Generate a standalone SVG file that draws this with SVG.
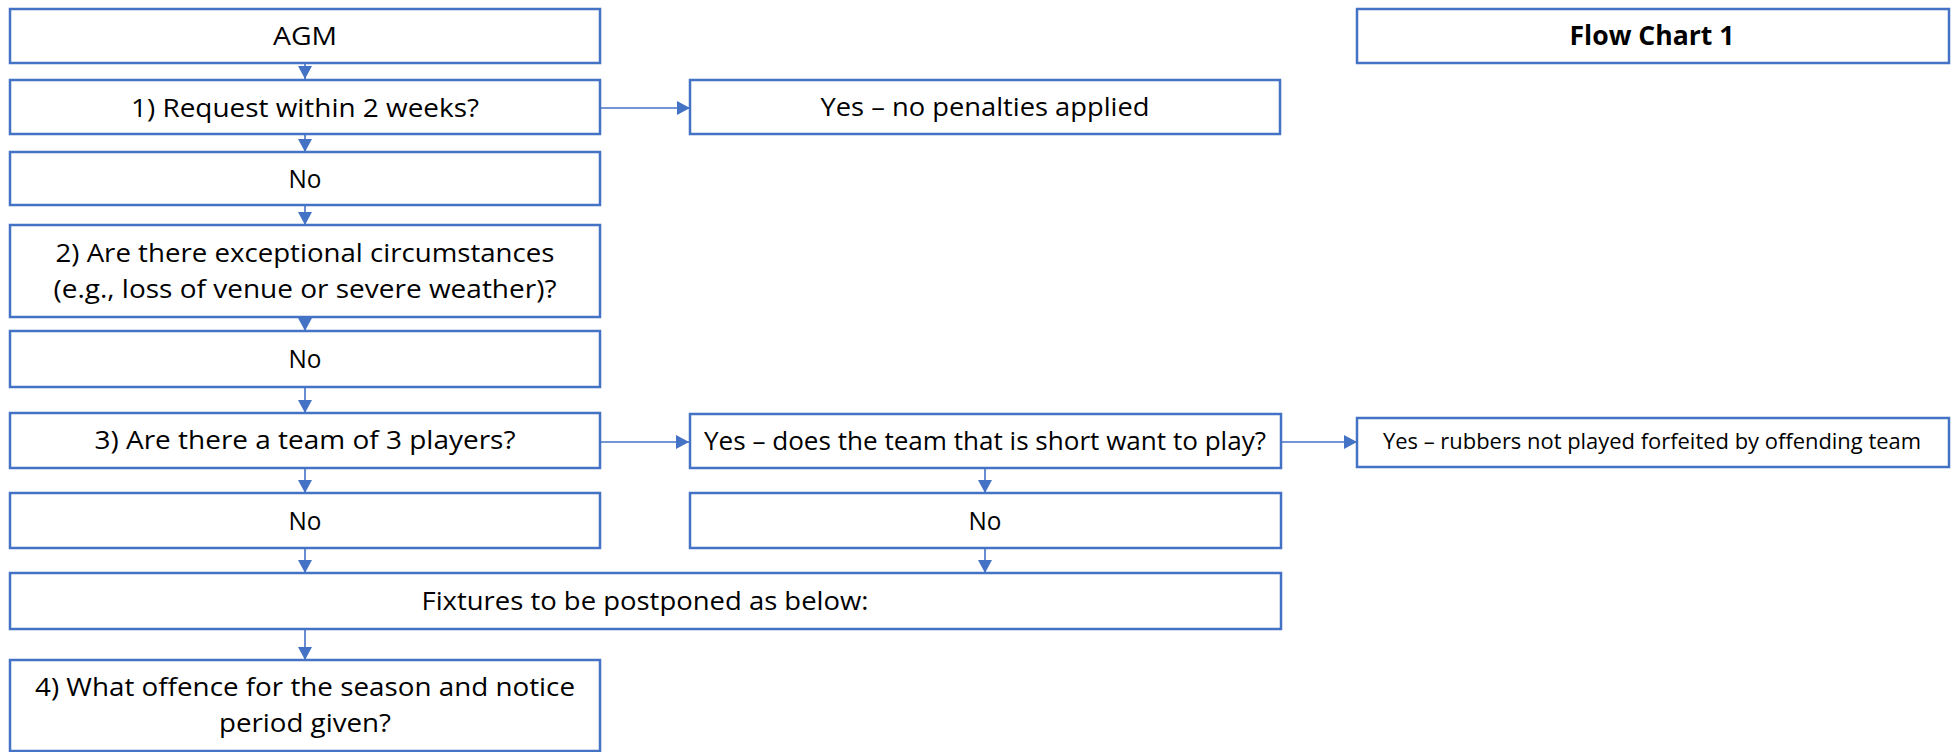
<svg xmlns="http://www.w3.org/2000/svg" width="1955" height="752" viewBox="0 0 1955 752">
<style>
.box{fill:#ffffff;stroke:#4472C4;stroke-width:2.5}
.t{font-family:"Open Sans","Liberation Sans",sans-serif;font-size:26px;fill:#000000;text-anchor:middle}
.s{font-size:21px}
.b{font-weight:bold}
.c{stroke:#4472C4;stroke-width:1.6;fill:none}
</style>
<defs>
<marker id="arr" viewBox="0 0 13 14" refX="13" refY="7" markerWidth="13" markerHeight="14" markerUnits="userSpaceOnUse" orient="auto">
<path d="M0,0 L13,7 L0,14 Z" fill="#4472C4"/>
</marker>
</defs>
<rect width="1955" height="752" fill="#ffffff"/>
<g id="connectors">
<path class="c" d="M305,63 V79" marker-end="url(#arr)"/>
<path class="c" d="M305,135 V152" marker-end="url(#arr)"/>
<path class="c" d="M305,205 V225" marker-end="url(#arr)"/>
<path class="c" d="M305,317 V331" marker-end="url(#arr)"/>
<path class="c" d="M305,387 V413" marker-end="url(#arr)"/>
<path class="c" d="M305,468 V493" marker-end="url(#arr)"/>
<path class="c" d="M305,548 V573" marker-end="url(#arr)"/>
<path class="c" d="M305,629 V660" marker-end="url(#arr)"/>
<path class="c" d="M985,468 V493" marker-end="url(#arr)"/>
<path class="c" d="M985,548 V573" marker-end="url(#arr)"/>
<path class="c" d="M600,108 H690" marker-end="url(#arr)"/>
<path class="c" d="M600,442 H689" marker-end="url(#arr)"/>
<path class="c" d="M1281,442 H1357" marker-end="url(#arr)"/>
</g>
<g id="agm"><rect class="box" x="10" y="9" width="590" height="54"/><text class="t" x="305" y="45" textLength="64" lengthAdjust="spacingAndGlyphs">AGM</text></g>
<g id="flowchart"><rect class="box" x="1357" y="9" width="592" height="54"/><text class="t b" x="1652" y="45" textLength="165" lengthAdjust="spacingAndGlyphs">Flow Chart 1</text></g>
<g id="q1"><rect class="box" x="10" y="80" width="590" height="54"/><text class="t" x="305" y="117" textLength="348" lengthAdjust="spacingAndGlyphs">1) Request within 2 weeks?</text></g>
<g id="yes1"><rect class="box" x="690" y="80" width="590" height="54"/><text class="t" x="985" y="116" textLength="329" lengthAdjust="spacingAndGlyphs">Yes – no penalties applied</text></g>
<g id="no1"><rect class="box" x="10" y="152" width="590" height="53"/><text class="t" x="305" y="188" textLength="33" lengthAdjust="spacingAndGlyphs">No</text></g>
<g id="q2"><rect class="box" x="10" y="225" width="590" height="92"/><text class="t" x="305" y="262" textLength="499" lengthAdjust="spacingAndGlyphs">2) Are there exceptional circumstances</text><text class="t" x="305" y="298" textLength="503" lengthAdjust="spacingAndGlyphs">(e.g., loss of venue or severe weather)?</text></g>
<g id="no2"><rect class="box" x="10" y="331" width="590" height="56"/><text class="t" x="305" y="368" textLength="33" lengthAdjust="spacingAndGlyphs">No</text></g>
<g id="q3"><rect class="box" x="10" y="413" width="590" height="55"/><text class="t" x="305" y="449" textLength="421" lengthAdjust="spacingAndGlyphs">3) Are there a team of 3 players?</text></g>
<g id="yes3"><rect class="box" x="690" y="414" width="591" height="54"/><text class="t" x="985" y="450" textLength="562" lengthAdjust="spacingAndGlyphs">Yes – does the team that is short want to play?</text></g>
<g id="rubbers"><rect class="box" x="1357" y="418" width="592" height="49"/><text class="t s" x="1652" y="449" textLength="538" lengthAdjust="spacingAndGlyphs">Yes – rubbers not played forfeited by offending team</text></g>
<g id="no3"><rect class="box" x="10" y="493" width="590" height="55"/><text class="t" x="305" y="530" textLength="33" lengthAdjust="spacingAndGlyphs">No</text></g>
<g id="no4"><rect class="box" x="690" y="493" width="591" height="55"/><text class="t" x="985" y="530" textLength="33" lengthAdjust="spacingAndGlyphs">No</text></g>
<g id="fixtures"><rect class="box" x="10" y="573" width="1271" height="56"/><text class="t" x="645" y="610" textLength="447" lengthAdjust="spacingAndGlyphs">Fixtures to be postponed as below:</text></g>
<g id="q4"><rect class="box" x="10" y="660" width="590" height="91"/><text class="t" x="305" y="696" textLength="540" lengthAdjust="spacingAndGlyphs">4) What offence for the season and notice</text><text class="t" x="305" y="732" textLength="172" lengthAdjust="spacingAndGlyphs">period given?</text></g>
</svg>
